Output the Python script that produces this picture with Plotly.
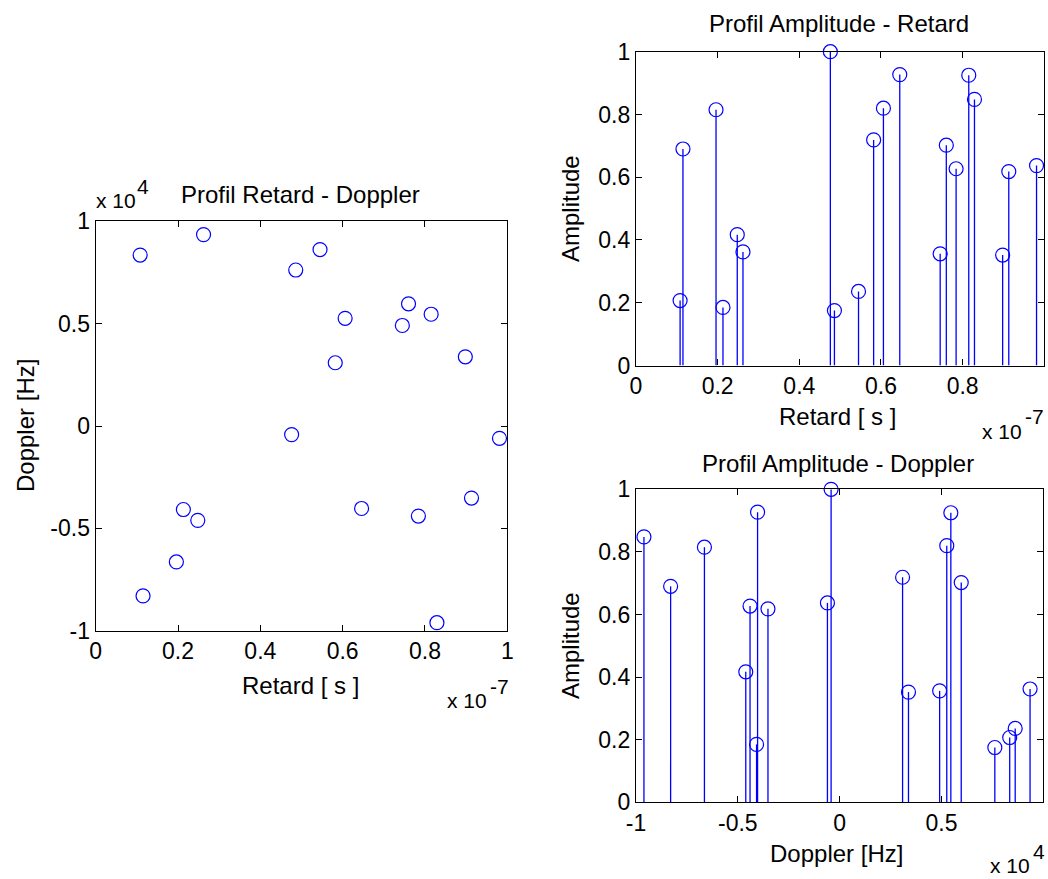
import plotly.graph_objects as go

# ---- data (retard in units of 1e-7 s, doppler in units of 1e4 Hz) ----
retard = [0.108, 0.262, 0.545, 0.486, 0.760, 0.606, 0.745, 0.815, 0.582, 0.898,
          0.476, 0.981, 0.213, 0.248, 0.646, 0.784, 0.913, 0.196, 0.115, 0.829]
doppler = [0.835, 0.935, 0.862, 0.762, 0.597, 0.526, 0.491, 0.546, 0.309, 0.338,
           -0.042, -0.060, -0.408, -0.461, -0.403, -0.440, -0.352, -0.664, -0.830, -0.961]
amplitude = [0.207, 0.362, 0.236, 0.175, 0.702, 0.820, 0.356, 0.925, 0.719, 0.352,
             1.000, 0.637, 0.185, 0.417, 0.927, 0.627, 0.618, 0.815, 0.690, 0.848]

ticks_01 = [0, 0.2, 0.4, 0.6, 0.8, 1]
ticks_01_text = ["0", "0.2", "0.4", "0.6", "0.8", "1"]
ticks_pm1 = [-1, -0.5, 0, 0.5, 1]
ticks_pm1_text = ["-1", "-0.5", "0", "0.5", "1"]

# ---- geometry helpers (body margin removed in post_script) ----
W, H = 1048, 879


def px(x):
    return x / W


def py(y):
    return 1 - y / H


FONT = "Liberation Sans, Arial, sans-serif"
FS_TICK = 23
FS_LAB = 24
FS_EXP = 21
BLUE = "#0000ff"

fig = go.Figure()

marker = dict(symbol="circle-open", size=14, color=BLUE, line=dict(width=1.2, color=BLUE))

fig.add_trace(go.Scatter(x=retard, y=doppler, mode="markers", marker=marker,
                         xaxis="x", yaxis="y", cliponaxis=False, showlegend=False))

fig.add_trace(go.Scatter(x=retard, y=amplitude, mode="markers", marker=marker,
                         error_y=dict(type="data", symmetric=False, array=[0] * len(amplitude),
                                      arrayminus=amplitude, width=0, thickness=1.3, color=BLUE),
                         xaxis="x2", yaxis="y2", cliponaxis=False, showlegend=False))

fig.add_trace(go.Scatter(x=doppler, y=amplitude, mode="markers", marker=marker,
                         error_y=dict(type="data", symmetric=False, array=[0] * len(amplitude),
                                      arrayminus=amplitude, width=0, thickness=1.3, color=BLUE),
                         xaxis="x3", yaxis="y3", cliponaxis=False, showlegend=False))

ax = dict(showline=True, linecolor="black", linewidth=1.3, mirror="ticks",
          ticks="inside", ticklen=6, tickcolor="black", tickwidth=1.3,
          showgrid=False, zeroline=False, automargin=False,
          tickfont=dict(family=FONT, size=FS_TICK, color="black"))

fig.update_layout(
    width=W, height=H,
    margin=dict(l=0, r=0, t=0, b=0, pad=0),
    paper_bgcolor="white", plot_bgcolor="white",
    font=dict(family=FONT, size=FS_LAB, color="black"),
    xaxis=dict(ax, domain=[px(95.7), px(507.3)], range=[0, 1], anchor="y",
               tickvals=ticks_01, ticktext=ticks_01_text),
    yaxis=dict(ax, domain=[py(630.7), py(221.3)], range=[-1, 1], anchor="x",
               tickvals=ticks_pm1, ticktext=ticks_pm1_text),
    xaxis2=dict(ax, domain=[px(636), px(1044.3)], range=[0, 1], anchor="y2",
                tickvals=ticks_01, ticktext=ticks_01_text),
    yaxis2=dict(ax, domain=[py(365.5), py(51.7)], range=[0, 1], anchor="x2",
                tickvals=ticks_01, ticktext=ticks_01_text),
    xaxis3=dict(ax, domain=[px(636), px(1043.3)], range=[-1, 1], anchor="y3",
                tickvals=ticks_pm1, ticktext=ticks_pm1_text),
    yaxis3=dict(ax, domain=[py(802.3), py(489.3)], range=[0, 1], anchor="x3",
                tickvals=ticks_01, ticktext=ticks_01_text),
)


def ann(text, x, y, xanchor="center", yanchor="middle", angle=0, size=FS_LAB):
    fig.add_annotation(text=text, x=px(x), y=py(y), xref="paper", yref="paper",
                       xanchor=xanchor, yanchor=yanchor, showarrow=False, textangle=angle,
                       font=dict(family=FONT, size=size, color="black"))


# titles
ann("Profil Retard - Doppler", 300, 195)
ann("Profil Amplitude - Retard", 838.5, 24)
ann("Profil Amplitude - Doppler", 838, 463)
# axis labels
ann("Retard [ s ]", 300, 685)
ann("Doppler [Hz]", 25, 426, angle=-90)
ann("Retard [ s ]", 837, 417)
ann("Amplitude", 570, 209, angle=-90)
ann("Doppler [Hz]", 836, 853)
ann("Amplitude", 570, 646, angle=-90)
# exponent labels ("x 10" plus a raised exponent)
ann("x 10", 94, 201, xanchor="left", size=FS_EXP)
ann("4", 135, 187, xanchor="left", size=FS_EXP)
ann("x 10", 489, 700, xanchor="right", size=FS_EXP)
ann("-7", 488, 686, xanchor="left", size=FS_EXP)
ann("x 10", 1024, 431, xanchor="right", size=FS_EXP)
ann("-7", 1023, 417, xanchor="left", size=FS_EXP)
ann("x 10", 1032, 865, xanchor="right", size=FS_EXP)
ann("4", 1031, 851, xanchor="left", size=FS_EXP)

fig.write_html("out.html", config={"displayModeBar": False},
               post_script="document.body.style.margin='0';")
